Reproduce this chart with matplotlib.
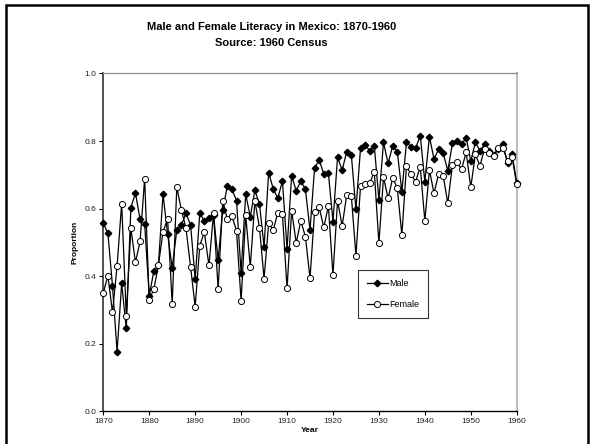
"""Male and female literacy in Mexico, 1870-1960 (1960 census)."""

import matplotlib

matplotlib.use("Agg")

import matplotlib.pyplot as plt
from matplotlib.patches import Rectangle

years = list(range(1870, 1961))

male = [
    0.557, 0.527, 0.372, 0.177, 0.379, 0.246, 0.603, 0.646, 0.569, 0.554,
    0.342, 0.416, 0.433, 0.643, 0.525, 0.425, 0.537, 0.552, 0.586, 0.552,
    0.391, 0.586, 0.564, 0.572, 0.581, 0.448, 0.596, 0.667, 0.657, 0.624,
    0.411, 0.643, 0.576, 0.655, 0.613, 0.488, 0.707, 0.658, 0.631, 0.682,
    0.481, 0.697, 0.653, 0.682, 0.657, 0.537, 0.721, 0.744, 0.703, 0.705,
    0.562, 0.752, 0.714, 0.769, 0.759, 0.598, 0.779, 0.788, 0.772, 0.786,
    0.626, 0.796, 0.734, 0.786, 0.769, 0.650, 0.796, 0.783, 0.779, 0.816,
    0.680, 0.813, 0.747, 0.776, 0.764, 0.712, 0.793, 0.800, 0.790, 0.810,
    0.741, 0.796, 0.772, 0.790, 0.772, 0.760, 0.777, 0.790, 0.734, 0.761,
    0.675,
]

female = [
    0.351, 0.402, 0.293, 0.431, 0.615, 0.283, 0.542, 0.441, 0.503, 0.689,
    0.330, 0.362, 0.433, 0.532, 0.569, 0.319, 0.664, 0.596, 0.542, 0.428,
    0.310, 0.491, 0.530, 0.432, 0.586, 0.362, 0.624, 0.569, 0.578, 0.535,
    0.327, 0.581, 0.428, 0.623, 0.544, 0.393, 0.557, 0.537, 0.588, 0.584,
    0.364, 0.594, 0.499, 0.564, 0.517, 0.394, 0.591, 0.604, 0.545, 0.608,
    0.404, 0.624, 0.549, 0.641, 0.638, 0.461, 0.667, 0.673, 0.675, 0.710,
    0.498, 0.693, 0.631, 0.690, 0.662, 0.522, 0.726, 0.702, 0.680, 0.724,
    0.564, 0.714, 0.646, 0.703, 0.697, 0.616, 0.729, 0.737, 0.717, 0.767,
    0.663, 0.761, 0.727, 0.777, 0.764, 0.756, 0.779, 0.779, 0.742, 0.752,
    0.673,
]

x_ticks = list(range(1870, 1961, 10))
y_ticks = [0.0, 0.2, 0.4, 0.6, 0.8, 1.0]

plt.rcParams["font.family"] = ["Liberation Sans", "DejaVu Sans"]

fig = plt.figure(figsize=(5.92, 4.44), dpi=100)
ax = fig.add_axes([0.1745, 0.0732, 0.6983, 0.7613])

ax.plot(years, male, color="black", linewidth=0.9, marker="D", markersize=3.3,
        markerfacecolor="black", markeredgecolor="black", label="Male",
        clip_on=False, zorder=3)
ax.plot(years, female, color="black", linewidth=0.9, marker="o", markersize=4.4,
        markerfacecolor="white", markeredgecolor="black", markeredgewidth=0.7,
        label="Female", clip_on=False, zorder=3)

ax.set_xlim(1870, 1960)
ax.set_ylim(0, 1.0)
ax.set_xticks(x_ticks)
ax.set_yticks(y_ticks)
ax.set_yticklabels([f"{v:.1f}" for v in y_ticks])
ax.tick_params(direction="out", length=3, width=0.8, labelsize=6, pad=2,
               colors="black", labelcolor="#222222")

ax.spines["top"].set_color("#8a8a8a")
ax.spines["top"].set_linewidth(0.9)
ax.spines["right"].set_color("#bdbdbd")
ax.spines["right"].set_linewidth(1.5)
ax.spines["left"].set_color("#333333")
ax.spines["left"].set_linewidth(1.2)
ax.spines["bottom"].set_linewidth(1.0)

ax.set_xlabel("Year", fontsize=6, fontweight="bold", labelpad=1)
ax.set_ylabel("Proportion", fontsize=6, fontweight="bold", labelpad=4)

leg = ax.legend(loc="upper left", bbox_to_anchor=(0.615, 0.418),
                fontsize=6.5, frameon=True, fancybox=False, handlelength=2.4,
                handletextpad=0.1, borderpad=1.0, labelspacing=1.3,
                borderaxespad=0)
leg.get_frame().set_edgecolor("black")
leg.get_frame().set_linewidth(0.8)

fig.text(271.5 / 592, 1 - 26.5 / 444,
         "Male and Female Literacy in Mexico: 1870-1960",
         ha="center", va="center", fontsize=8, fontweight="bold")
fig.text(271.5 / 592, 1 - 42.5 / 444, "Source: 1960 Census",
         ha="center", va="center", fontsize=8, fontweight="bold")

# outer frame round the whole chart
fig.patches.append(Rectangle((6 / 592, -0.05), 582 / 592, 1.05 - 5 / 444,
                             transform=fig.transFigure, fill=False,
                             edgecolor="black", linewidth=1.8))

fig.savefig("out.png", dpi=100)
